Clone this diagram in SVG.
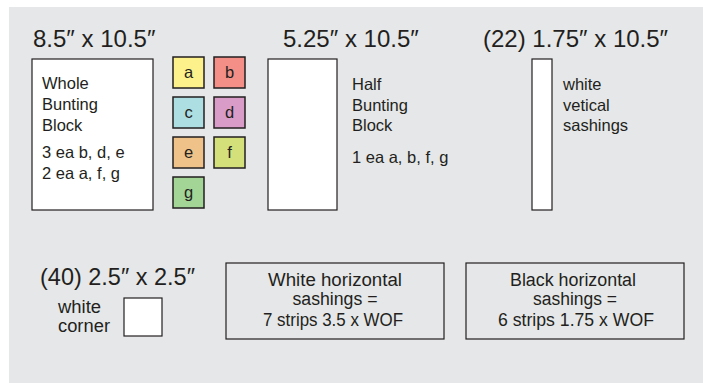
<svg xmlns="http://www.w3.org/2000/svg" width="703" height="383" viewBox="0 0 703 383">
<style>
text{font-family:"Liberation Sans",Arial,sans-serif;fill:#231f20}
.t{font-size:24px}
.b{font-size:16.5px}
.n{font-size:18px}
.box{fill:#fff;stroke:#231f20;stroke-width:1.2}
.hbox{fill:none;stroke:#231f20;stroke-width:1.2}
.sq{stroke:#231f20;stroke-width:1.5}
.c{text-anchor:middle}
</style>
<rect x="9" y="7" width="694" height="376" fill="#e6e7e8"/>
<g id="whole-block">
<text class="t" x="33" y="47">8.5″ x 10.5″</text>
<rect class="box" x="32" y="59" width="121" height="151"/>
<text class="b" x="42" y="89">Whole</text>
<text class="b" x="42" y="110">Bunting</text>
<text class="b" x="42" y="131">Block</text>
<text class="b" x="42" y="158">3 ea b, d, e</text>
<text class="b" x="42" y="179">2 ea a, f, g</text>
</g>
<g id="sq-a"><rect class="sq" x="173" y="57" width="31" height="31" fill="#fdf18b"/><text class="b c" x="188.5" y="78">a</text></g>
<g id="sq-b"><rect class="sq" x="214" y="57" width="31" height="31" fill="#f48f87"/><text class="b c" x="229.5" y="78">b</text></g>
<g id="sq-c"><rect class="sq" x="173" y="97" width="31" height="31" fill="#acdee2"/><text class="b c" x="188.5" y="118">c</text></g>
<g id="sq-d"><rect class="sq" x="214" y="97" width="31" height="31" fill="#d99cc8"/><text class="b c" x="229.5" y="118">d</text></g>
<g id="sq-e"><rect class="sq" x="173" y="137" width="31" height="31" fill="#eec289"/><text class="b c" x="188.5" y="158">e</text></g>
<g id="sq-f"><rect class="sq" x="214" y="137" width="31" height="31" fill="#d4e17b"/><text class="b c" x="229.5" y="158">f</text></g>
<g id="sq-g"><rect class="sq" x="173" y="177" width="31" height="31" fill="#a2d596"/><text class="b c" x="188.5" y="198">g</text></g>
<g id="half-block">
<text class="t" x="283" y="47">5.25″ x 10.5″</text>
<rect class="box" x="268" y="59" width="69" height="151"/>
<text class="b" x="352" y="90">Half</text>
<text class="b" x="352" y="111">Bunting</text>
<text class="b" x="352" y="131">Block</text>
<text class="b" x="352" y="163">1 ea a, b, f, g</text>
</g>
<g id="vertical-sashing">
<text class="t" x="483" y="47">(22) 1.75″ x 10.5″</text>
<rect class="box" x="532" y="59" width="20" height="151"/>
<text class="b" x="563" y="90">white</text>
<text class="b" x="563" y="111">vetical</text>
<text class="b" x="563" y="131">sashings</text>
</g>
<g id="corner">
<text class="t" x="40" y="285" textLength="155" lengthAdjust="spacingAndGlyphs">(40) 2.5″ x 2.5″</text>
<rect class="box" x="124" y="298" width="38" height="38"/>
<text class="n" x="58" y="313" textLength="43" lengthAdjust="spacingAndGlyphs">white</text>
<text class="n" x="58" y="332" textLength="52" lengthAdjust="spacingAndGlyphs">corner</text>
</g>
<g id="white-horizontal">
<rect class="hbox" x="226" y="263" width="218" height="76"/>
<text class="n c" x="335" y="286" textLength="134" lengthAdjust="spacingAndGlyphs">White horizontal</text>
<text class="n c" x="335" y="305" textLength="85" lengthAdjust="spacingAndGlyphs">sashings =</text>
<text class="n c" x="333" y="326" textLength="140" lengthAdjust="spacingAndGlyphs">7 strips 3.5 x WOF</text>
</g>
<g id="black-horizontal">
<rect class="hbox" x="466" y="263" width="218" height="76"/>
<text class="n c" x="573" y="286" textLength="126" lengthAdjust="spacingAndGlyphs">Black horizontal</text>
<text class="n c" x="575" y="305" textLength="84" lengthAdjust="spacingAndGlyphs">sashings =</text>
<text class="n c" x="576" y="326" textLength="156" lengthAdjust="spacingAndGlyphs">6 strips 1.75 x WOF</text>
</g>
<g id="connectors"/>
</svg>
